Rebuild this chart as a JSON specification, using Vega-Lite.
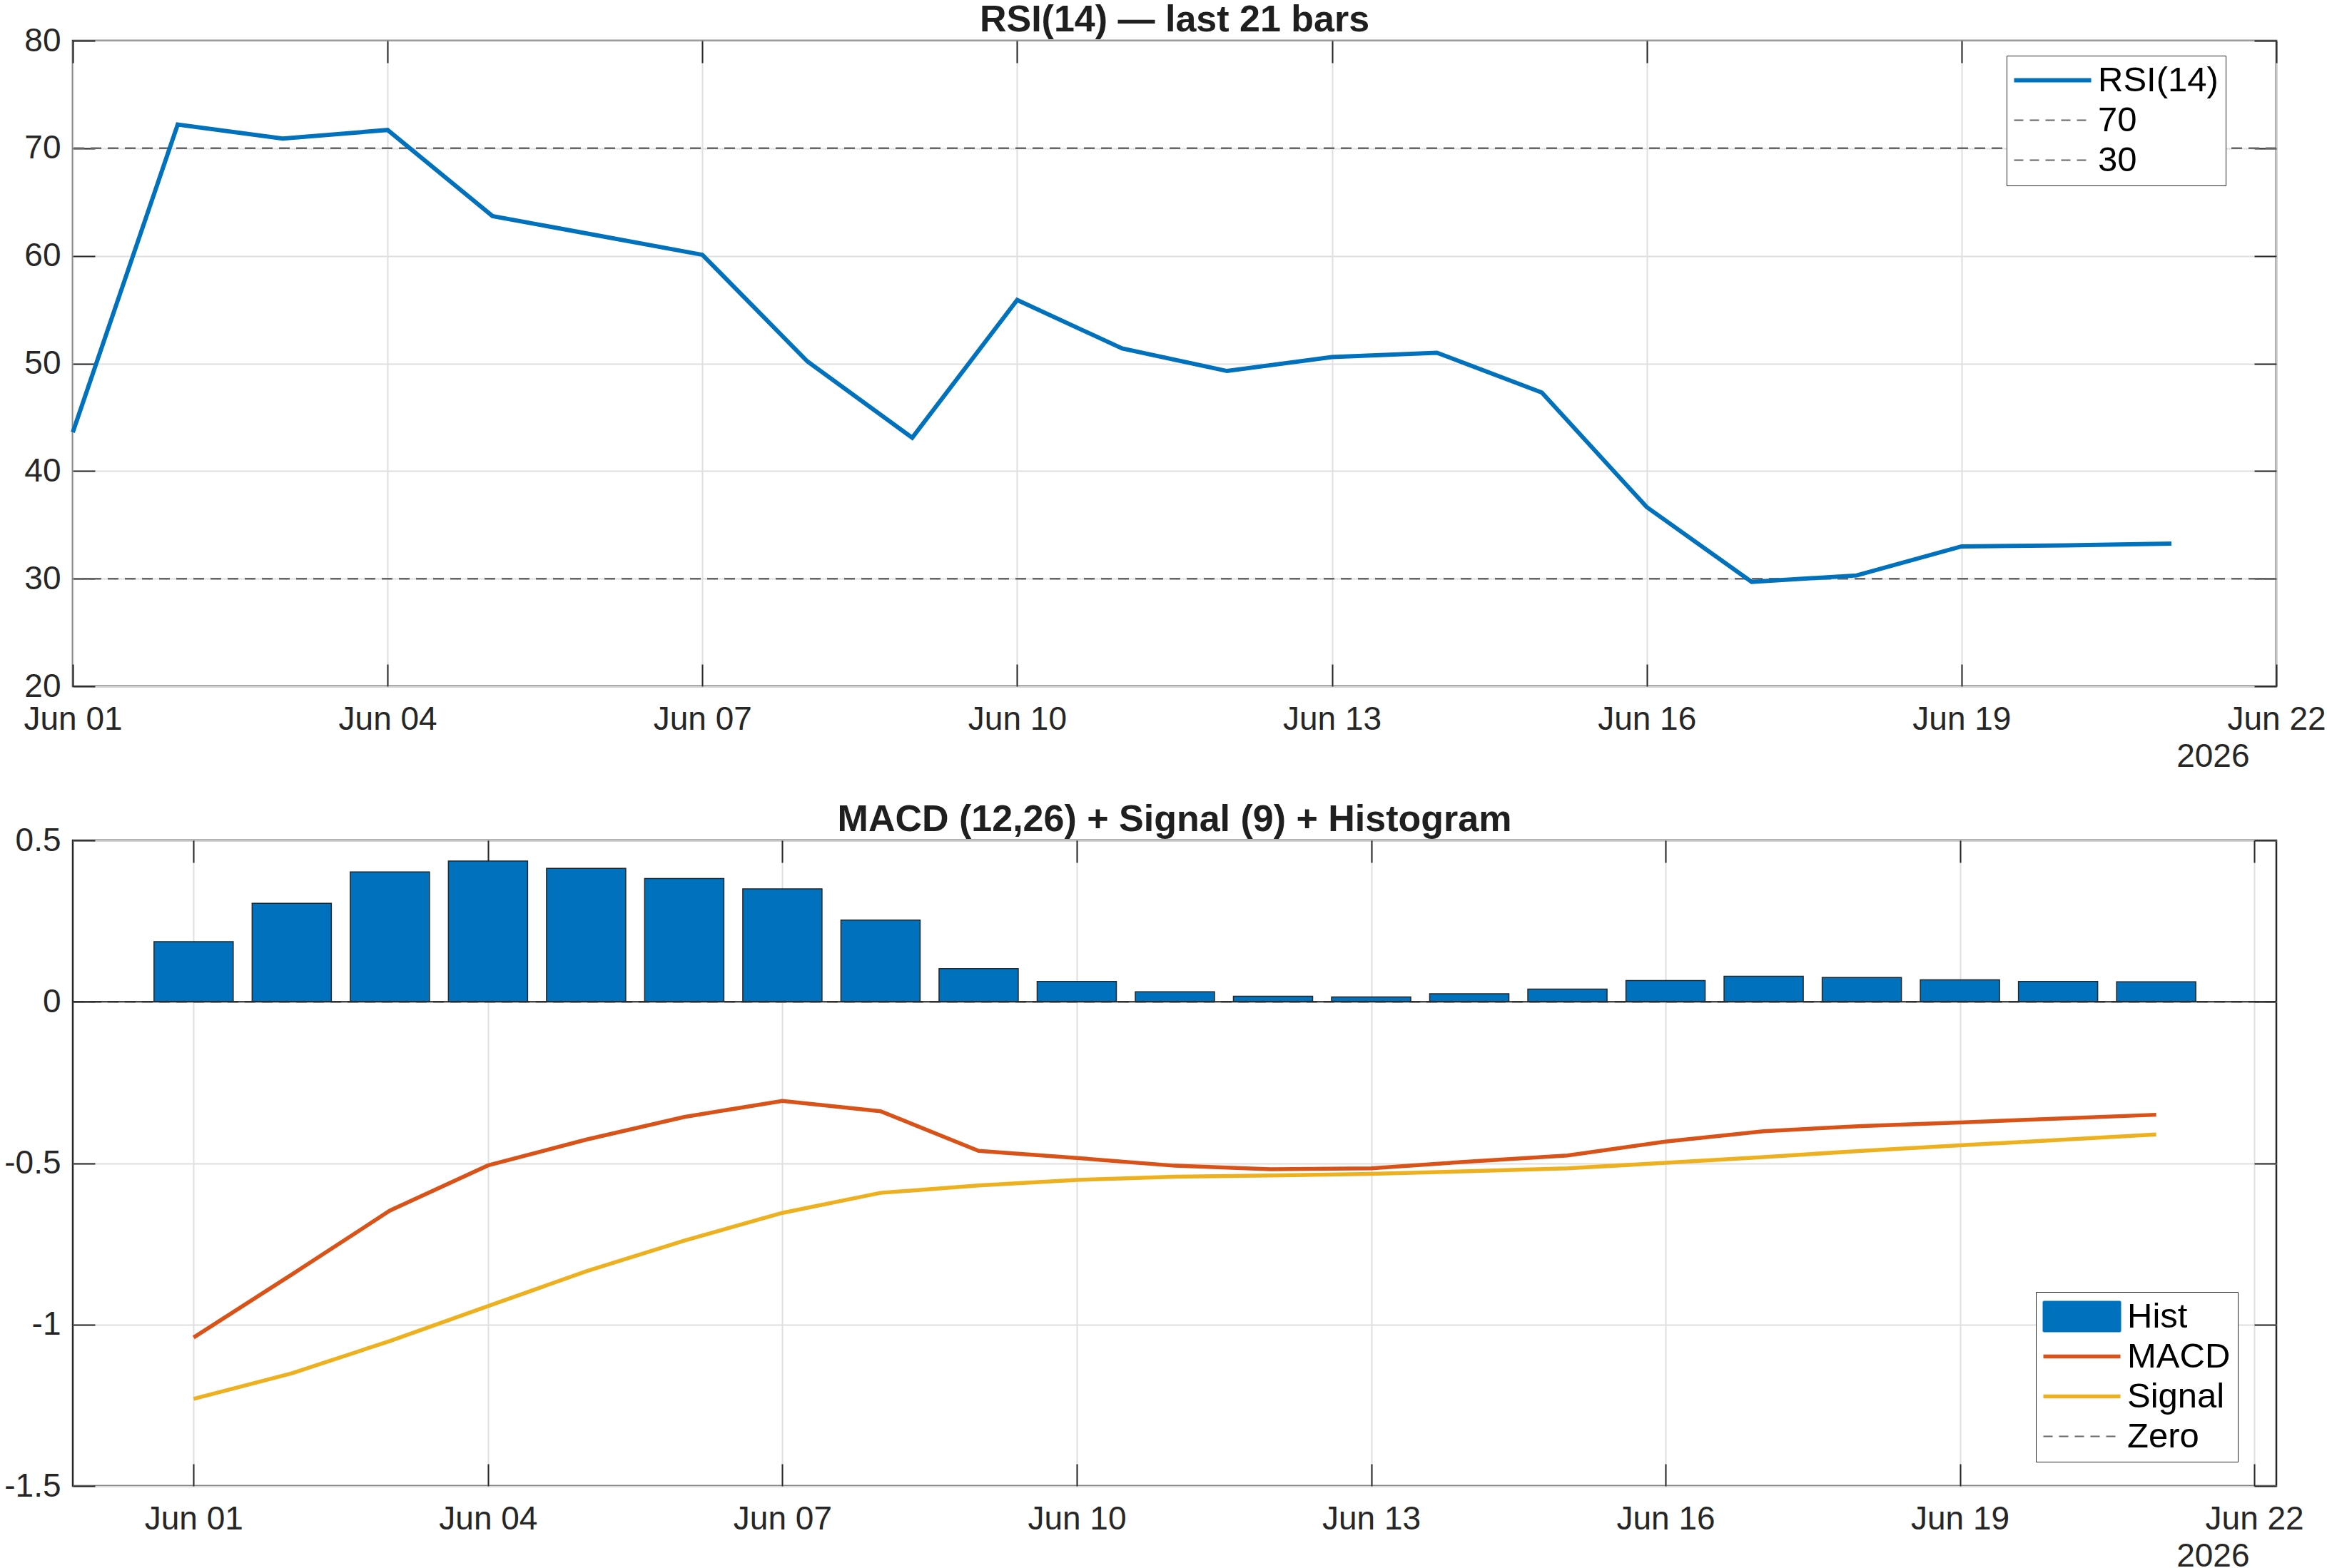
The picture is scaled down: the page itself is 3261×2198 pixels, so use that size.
{
  "$schema": "https://vega.github.io/schema/vega-lite/v6.json",
  "background": "white",
  "padding": {"left": 4, "top": 0, "right": 0, "bottom": 0},
  "datasets": {
    "daily": [
      {"date": "2026-06-01", "rsi": 43.6, "hist": 0.186, "macd": -1.040, "signal": -1.230},
      {"date": "2026-06-02", "rsi": 72.2, "hist": 0.305, "macd": -0.845, "signal": -1.151},
      {"date": "2026-06-03", "rsi": 70.9, "hist": 0.402, "macd": -0.647, "signal": -1.051},
      {"date": "2026-06-04", "rsi": 71.7, "hist": 0.436, "macd": -0.507, "signal": -0.943},
      {"date": "2026-06-05", "rsi": 63.7, "hist": 0.413, "macd": -0.427, "signal": -0.835},
      {"date": "2026-06-06", "rsi": 61.9, "hist": 0.382, "macd": -0.357, "signal": -0.740},
      {"date": "2026-06-07", "rsi": 60.1, "hist": 0.350, "macd": -0.307, "signal": -0.654},
      {"date": "2026-06-08", "rsi": 50.2, "hist": 0.253, "macd": -0.339, "signal": -0.592},
      {"date": "2026-06-09", "rsi": 43.1, "hist": 0.103, "macd": -0.462, "signal": -0.569},
      {"date": "2026-06-10", "rsi": 55.9, "hist": 0.063, "macd": -0.484, "signal": -0.552},
      {"date": "2026-06-11", "rsi": 51.4, "hist": 0.031, "macd": -0.508, "signal": -0.542},
      {"date": "2026-06-12", "rsi": 49.3, "hist": 0.017, "macd": -0.519, "signal": -0.538},
      {"date": "2026-06-13", "rsi": 50.6, "hist": 0.015, "macd": -0.516, "signal": -0.533},
      {"date": "2026-06-14", "rsi": 51.0, "hist": 0.025, "macd": -0.495, "signal": -0.525},
      {"date": "2026-06-15", "rsi": 47.3, "hist": 0.039, "macd": -0.476, "signal": -0.516},
      {"date": "2026-06-16", "rsi": 36.65, "hist": 0.066, "macd": -0.433, "signal": -0.499},
      {"date": "2026-06-17", "rsi": 29.7, "hist": 0.079, "macd": -0.401, "signal": -0.481},
      {"date": "2026-06-18", "rsi": 30.3, "hist": 0.075, "macd": -0.385, "signal": -0.462},
      {"date": "2026-06-19", "rsi": 33.0, "hist": 0.068, "macd": -0.374, "signal": -0.445},
      {"date": "2026-06-20", "rsi": 33.1, "hist": 0.063, "macd": -0.362, "signal": -0.428},
      {"date": "2026-06-21", "rsi": 33.26, "hist": 0.062, "macd": -0.350, "signal": -0.411}
    ],
    "thresholds": [
      {"series": "70", "level": 70},
      {"series": "30", "level": 30}
    ],
    "zero": [
      {"series": "Zero", "level": 0}
    ]
  },
  "spacing": 36,
  "resolve": {"scale": {"color": "independent"}, "legend": {"color": "independent"}},
  "vconcat": [
    {
      "width": 3088,
      "height": 905,
      "title": {"text": "RSI(14) — last 21 bars", "fontSize": 52, "font": "Liberation Sans", "fontWeight": "bold", "color": "#1f1f1f", "offset": -21, "anchor": "middle"},
      "layer": [
        {
          "data": {"name": "thresholds"},
          "mark": {"type": "rule", "strokeDash": [15, 9], "strokeWidth": 2.5},
          "encoding": {
            "y": {"field": "level", "type": "quantitative", "scale": {"domain": [20, 80], "nice": false, "zero": false}, "axis": null},
            "color": {
              "field": "series", "type": "nominal",
              "scale": {"domain": ["RSI(14)", "70", "30"], "range": ["#0072BD", "#666666", "#666666"]},
              "legend": {
                "orient": "none", "legendX": 2710, "legendY": 21, "title": null,
                "symbolSize": 2304, "labelFontSize": 49, "labelFont": "Liberation Sans", "labelColor": "#000000", "labelLimit": 0,
                "padding": 10, "rowPadding": 6, "labelOffset": 69,
                "strokeColor": "#262626", "fillColor": "#ffffff",
                "encode": {
                  "symbols": {"update": {
                    "shape": {"value": "M-1,0H3.5"},
                    "fill": {"value": "transparent"},
                    "stroke": {"signal": "datum.label === 'RSI(14)' ? '#0072BD' : '#777777'"},
                    "strokeWidth": {"signal": "datum.label === 'RSI(14)' ? 6 : 2"},
                    "strokeDash": {"signal": "datum.label === 'RSI(14)' ? [1, 0] : [13, 9]"},
                    "opacity": {"value": 1}
                  }}
                }
              }
            }
          }
        },
        {
          "data": {"name": "daily"},
          "mark": {"type": "line", "strokeWidth": 6},
          "encoding": {
            "x": {
              "field": "date", "type": "temporal",
              "scale": {"type": "utc", "domain": [1780272000000, 1782086400000]},
              "axis": {
                "values": [1780272000000, 1780531200000, 1780790400000, 1781049600000, 1781308800000, 1781568000000, 1781827200000, 1782086400000],
                "format": "%b %d", "labelAngle": 0, "grid": true, "ticks": true, "tickSize": -31, "labelPadding": 55,
                "title": "2026", "titleX": 3050, "titleY": 98, "titleAlign": "right", "titleBaseline": "middle", "titleAnchor": null
              }
            },
            "y": {
              "field": "rsi", "type": "quantitative",
              "axis": {"values": [20, 30, 40, 50, 60, 70, 80], "grid": true, "ticks": true, "tickSize": -31, "labelPadding": 48, "title": null}
            },
            "color": {"datum": "RSI(14)", "type": "nominal"}
          }
        },
        {
          "data": {"name": "daily"},
          "mark": {"type": "line", "opacity": 0},
          "encoding": {
            "x": {
              "field": "date", "type": "temporal",
              "axis": {"orient": "top", "labels": false, "grid": false, "ticks": true, "tickSize": -31, "title": null,
                "values": [1780272000000, 1780531200000, 1780790400000, 1781049600000, 1781308800000, 1781568000000, 1781827200000, 1782086400000]}
            },
            "y": {
              "field": "rsi", "type": "quantitative",
              "axis": {"orient": "right", "labels": false, "grid": false, "ticks": true, "tickSize": -31, "title": null, "values": [20, 30, 40, 50, 60, 70, 80]}
            }
          }
        }
      ],
      "resolve": {"axis": {"x": "independent", "y": "independent"}}
    },
    {
      "width": 3088,
      "height": 905,
      "title": {"text": "MACD (12,26) + Signal (9) + Histogram", "fontSize": 52, "font": "Liberation Sans", "fontWeight": "bold", "color": "#1f1f1f", "offset": -21, "anchor": "middle"},
      "layer": [
        {
          "data": {"name": "zero"},
          "mark": {"type": "rule", "strokeDash": [15, 9], "strokeWidth": 2.5},
          "encoding": {
            "y": {"field": "level", "type": "quantitative", "scale": {"domain": [-1.5, 0.5], "nice": false}, "axis": null},
            "color": {
              "field": "series", "type": "nominal",
              "scale": {"domain": ["Hist", "MACD", "Signal", "Zero"], "range": ["#0072BD", "#D95319", "#EDB120", "#666666"]},
              "legend": {
                "orient": "none", "legendX": 2751, "legendY": 633, "title": null,
                "symbolSize": 2304, "labelFontSize": 49, "labelFont": "Liberation Sans", "labelColor": "#000000", "labelLimit": 0,
                "padding": 10, "rowPadding": 6, "labelOffset": 69,
                "strokeColor": "#262626", "fillColor": "#ffffff",
                "encode": {
                  "symbols": {"update": {
                    "shape": {"signal": "datum.label === 'Hist' ? 'M-1,-0.875H3.5V0.875H-1Z' : 'M-1,0H3.5'"},
                    "fill": {"signal": "datum.label === 'Hist' ? '#0072BD' : 'transparent'"},
                    "stroke": {"signal": "datum.label === 'Hist' ? '#262626' : datum.label === 'MACD' ? '#D95319' : datum.label === 'Signal' ? '#EDB120' : '#777777'"},
                    "strokeWidth": {"signal": "datum.label === 'Hist' || datum.label === 'Zero' ? 2 : 5.5"},
                    "strokeDash": {"signal": "datum.label === 'Zero' ? [13, 9] : [1, 0]"},
                    "opacity": {"value": 1}
                  }}
                }
              }
            }
          }
        },
        {
          "data": {"name": "daily"},
          "mark": {"type": "bar", "size": 111, "stroke": "#262626", "strokeWidth": 1.5},
          "encoding": {
            "x": {
              "field": "date", "type": "temporal",
              "scale": {"type": "utc", "domain": [1780168752000, 1782102643200]},
              "axis": {
                "values": [1780272000000, 1780531200000, 1780790400000, 1781049600000, 1781308800000, 1781568000000, 1781827200000, 1782086400000],
                "format": "%b %d", "labelAngle": 0, "grid": true, "ticks": true, "tickSize": -31, "labelPadding": 55,
                "title": "2026", "titleX": 3050, "titleY": 98, "titleAlign": "right", "titleBaseline": "middle", "titleAnchor": null
              }
            },
            "y": {
              "field": "hist", "type": "quantitative",
              "axis": {"values": [-1.5, -1, -0.5, 0, 0.5], "grid": true, "ticks": true, "tickSize": -31, "labelPadding": 48, "title": null,
                "labelExpr": "datum.value < 0 ? '-' + format(-datum.value, '~g') : format(datum.value, '~g')"}
            },
            "color": {"datum": "Hist", "type": "nominal"}
          }
        },
        {
          "data": {"name": "daily"},
          "mark": {"type": "line", "strokeWidth": 5.5},
          "encoding": {
            "x": {"field": "date", "type": "temporal", "axis": null},
            "y": {"field": "macd", "type": "quantitative", "axis": null},
            "color": {"datum": "MACD", "type": "nominal"}
          }
        },
        {
          "data": {"name": "daily"},
          "mark": {"type": "line", "strokeWidth": 5.5},
          "encoding": {
            "x": {"field": "date", "type": "temporal", "axis": null},
            "y": {"field": "signal", "type": "quantitative", "axis": null},
            "color": {"datum": "Signal", "type": "nominal"}
          }
        },
        {
          "data": {"name": "zero"},
          "mark": {"type": "rule", "color": "#262626", "strokeWidth": 2},
          "encoding": {
            "y": {"field": "level", "type": "quantitative", "axis": null}
          }
        },
        {
          "data": {"name": "daily"},
          "mark": {"type": "line", "opacity": 0},
          "encoding": {
            "x": {
              "field": "date", "type": "temporal",
              "axis": {"orient": "top", "labels": false, "grid": false, "ticks": true, "tickSize": -31, "title": null,
                "values": [1780272000000, 1780531200000, 1780790400000, 1781049600000, 1781308800000, 1781568000000, 1781827200000, 1782086400000]}
            },
            "y": {
              "field": "signal", "type": "quantitative",
              "axis": {"orient": "right", "labels": false, "grid": false, "ticks": true, "tickSize": -31, "title": null, "values": [-1.5, -1, -0.5, 0, 0.5]}
            }
          }
        }
      ],
      "resolve": {"axis": {"x": "independent", "y": "independent"}}
    }
  ],
  "config": {
    "font": "Liberation Sans",
    "view": {"stroke": "#262626", "strokeWidth": 2.5},
    "axis": {
      "labelFont": "Liberation Sans", "labelFontSize": 46, "labelColor": "#262626",
      "titleFont": "Liberation Sans", "titleFontSize": 46, "titleFontWeight": "normal", "titleColor": "#262626",
      "gridColor": "#dfdfdf", "gridWidth": 2,
      "tickColor": "#262626", "tickWidth": 2,
      "domain": false, "labelFlush": false, "labelOverlap": false
    },
    "legend": {"labelFont": "Liberation Sans"}
  }
}
